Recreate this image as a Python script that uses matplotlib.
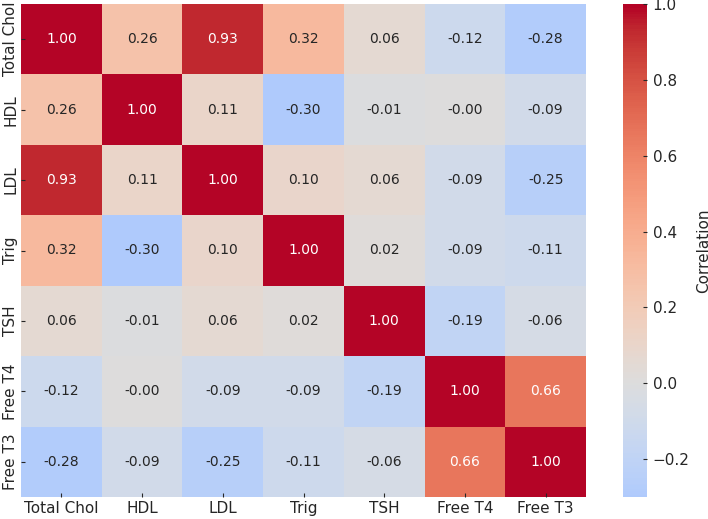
import numpy as np
import matplotlib
matplotlib.use("Agg")
import matplotlib.pyplot as plt
import seaborn as sns

labels = ["Total Chol", "HDL", "LDL", "Trig", "TSH", "Free T4", "Free T3"]

total_chol = [1.00, 0.26, 0.93, 0.32, 0.06, -0.12, -0.28]
hdl = [0.26, 1.00, 0.11, -0.30, -0.01, -0.00, -0.09]
ldl = [0.93, 0.11, 1.00, 0.10, 0.06, -0.09, -0.25]
trig = [0.32, -0.30, 0.10, 1.00, 0.02, -0.09, -0.11]
tsh = [0.06, -0.01, 0.06, 0.02, 1.00, -0.19, -0.06]
free_t4 = [-0.12, -0.00, -0.09, -0.09, -0.19, 1.00, 0.66]
free_t3 = [-0.28, -0.09, -0.25, -0.11, -0.06, 0.66, 1.00]

corr = np.array([total_chol, hdl, ldl, trig, tsh, free_t4, free_t3])

fig = plt.figure(figsize=(7.08, 5.19), dpi=100)
ax = fig.add_axes([21 / 708, 1 - 497 / 519, 565 / 708, 493 / 519])
cax = fig.add_axes([623 / 708, 1 - 497 / 519, 24 / 708, 493 / 519])

sns.heatmap(corr, ax=ax, cbar_ax=cax, cmap="coolwarm", center=0,
            vmin=-0.30, vmax=1.0, annot=True, fmt=".2f",
            annot_kws={"size": 10},
            xticklabels=labels, yticklabels=labels,
            cbar_kws={"label": "Correlation"})

# ticks sit inside the cells, labels hug the edges
ax.tick_params(axis="both", labelsize=11, colors="#262626", length=3,
               direction="in")
ax.tick_params(axis="x", rotation=0, pad=3)
ax.tick_params(axis="y", rotation=90, pad=2)
for t in ax.get_yticklabels():
    t.set_va("center")
cax.tick_params(labelsize=11, colors="#262626", length=3, direction="in",
                pad=4)
cax.yaxis.label.set_size(11)
cax.yaxis.label.set_color("#262626")
cax.yaxis.labelpad = 5

fig.savefig("out.png", dpi=100)
